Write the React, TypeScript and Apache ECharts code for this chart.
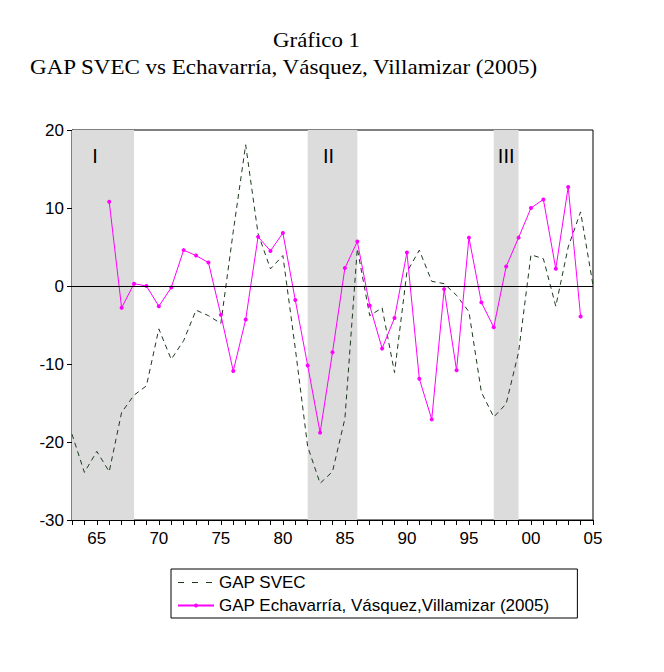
import React, { useEffect, useRef } from "react";
import * as echarts from "echarts";

const years: string[] = [];
for (let y = 1963; y <= 2005; y++) years.push(String(y));

const gapSvec: (number | null)[] = [
  -19.0, -23.9, -21.2, -23.8, -16.2, -14.0, -12.8, -5.5, -9.4, -7.0,
  -3.1, -3.8, -4.8, 7.0, 18.1, 6.7, 2.2, 3.9, -8.0, -20.6,
  -25.3, -23.8, -17.0, 4.8, -3.8, -2.8, -11.1, 1.8, 4.6, 0.6,
  0.3, -1.2, -3.3, -13.6, -16.8, -15.1, -8.5, 4.0, 3.5, -2.6,
  5.0, 9.5, 0.1,
];

const gapEvv: (number | null)[] = [
  null, null, null, 10.8, -2.8, 0.3, 0.0, -2.6, -0.2, 4.6,
  3.9, 3.0, -3.7, -10.9, -4.3, 6.3, 4.5, 6.8, -1.8, -10.2,
  -18.8, -8.5, 2.3, 5.7, -2.5, -8.0, -4.1, 4.3, -11.9, -17.1,
  -0.4, -10.8, 6.2, -2.1, -5.3, 2.5, 6.2, 10.0, 11.1, 2.2,
  12.7, -3.9, null,
];

const shadedPeriods: { from: string; to: string; name: string }[] = [
  { from: "1963", to: "1968", name: "I" },
  { from: "1982", to: "1986", name: "II" },
  { from: "1997", to: "1999", name: "III" },
];
const shadeOffsets: number[][] = [[-8, 0], [-4, 0], [0, 0]];

const sans = "Liberation Sans, Arial, sans-serif";
const serif = "Liberation Serif, Times New Roman, serif";

export default function App() {
  const ref = useRef<HTMLDivElement>(null);
  useEffect(() => {
    if (!ref.current) return;
    const chart = echarts.init(ref.current, undefined, { renderer: "svg" });
    chart.setOption({
      animation: false,
      backgroundColor: "#ffffff",
      graphic: [
        {
          type: "text",
          x: 273,
          y: 29,
          scaleX: 1.09,
          style: { text: "Gráfico 1", font: `21px ${serif}`, fill: "#000" },
        },
        {
          type: "text",
          x: 30,
          y: 56,
          scaleX: 1.097,
          style: {
            text: "GAP SVEC vs Echavarría, Vásquez, Villamizar (2005)",
            font: `21px ${serif}`,
            fill: "#000",
          },
        },
      ],
      grid: {
        left: 72,
        right: 71,
        top: 130,
        bottom: 152,
        show: true,
        borderColor: "#000",
        borderWidth: 1,
        backgroundColor: "transparent",
      },
      legend: {
        left: 171,
        top: 569,
        orient: "vertical",
        borderColor: "#000",
        borderWidth: 1,
        padding: [5, 28, 4, 6],
        itemGap: 6,
        itemWidth: 36,
        itemHeight: 5,
        textStyle: { fontFamily: sans, fontSize: 17, color: "#000" },
        data: [
          {
            name: "GAP SVEC",
            itemStyle: { opacity: 0 },
            lineStyle: { type: [6, 8], color: "#1e3a1e", width: 1 },
          },
          { name: "GAP Echavarría, Vásquez,Villamizar (2005)" },
        ],
      },
      xAxis: {
        type: "category",
        data: years,
        boundaryGap: false,
        axisLine: { onZero: false, lineStyle: { color: "#000", width: 1 } },
        axisTick: {
          interval: 0,
          length: 5,
          lineStyle: { color: "#000" },
        },
        axisLabel: {
          interval: (_i: number, v: string) => Number(v) % 5 === 0,
          formatter: (v: string) => v.slice(2),
          color: "#000",
          fontFamily: sans,
          fontSize: 17,
          margin: 10,
        },
        splitLine: { show: false },
      },
      yAxis: {
        type: "value",
        min: -30,
        max: 20,
        interval: 10,
        axisLine: { show: true, lineStyle: { color: "#000" } },
        axisTick: { show: true, length: 5, lineStyle: { color: "#000" } },
        axisLabel: { color: "#000", fontFamily: sans, fontSize: 17, margin: 8 },
        splitLine: { show: false },
      },
      series: [
        {
          name: "GAP SVEC",
          type: "line",
          data: gapSvec,
          symbol: "none",
          lineStyle: { color: "#1e3a1e", width: 1, type: [5, 4] },
          itemStyle: { color: "#1e3a1e" },
          z: 3,
          markArea: {
            silent: true,
            itemStyle: { color: "#dcdcdc" },
            label: {
              position: "insideTop",
              distance: 16,
              color: "#000",
              fontFamily: sans,
              fontSize: 20,
            },
            data: shadedPeriods.map((p, i) => [
              { xAxis: p.from, name: p.name, label: { offset: shadeOffsets[i] } },
              { xAxis: p.to },
            ]),
          },
          markLine: {
            silent: true,
            symbol: "none",
            label: { show: false },
            lineStyle: { color: "#000", width: 1, type: "solid" },
            data: [{ yAxis: 0 }],
          },
        },
        {
          name: "GAP Echavarría, Vásquez,Villamizar (2005)",
          type: "line",
          data: gapEvv,
          symbol: "circle",
          symbolSize: 4,
          connectNulls: false,
          lineStyle: { color: "#ff00ff", width: 1 },
          itemStyle: { color: "#ff00ff" },
          z: 4,
        },
      ],
    });
    return () => chart.dispose();
  }, []);
  return (
    <div
      ref={ref}
      style={{ position: "absolute", left: 0, top: 0, width: 664, height: 672 }}
    />
  );
}
